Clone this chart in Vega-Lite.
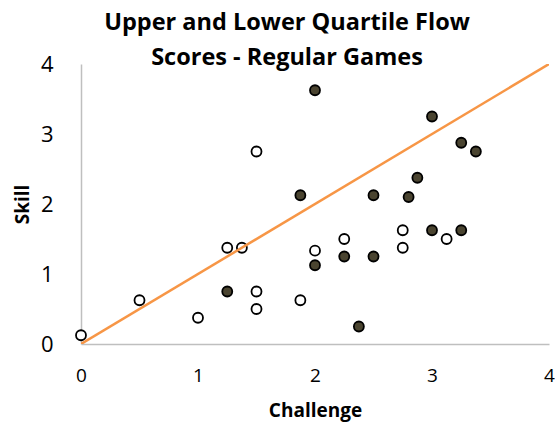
{
  "$schema": "https://vega.github.io/schema/vega-lite/v6.json",
  "width": 468,
  "height": 280,
  "autosize": {"type": "none"},
  "padding": {"left": 81, "top": 64, "right": 6, "bottom": 82},
  "background": "white",
  "config": {
    "view": {"stroke": null},
    "font": "Open Sans"
  },
  "title": {
    "text": ["Upper and Lower Quartile Flow", "Scores - Regular Games"],
    "fontSize": 23.5,
    "fontWeight": "bold",
    "font": "Open Sans",
    "color": "#000000",
    "lineHeight": 35,
    "anchor": "middle",
    "offset": -16,
    "dx": -28
  },
  "datasets": {
    "points": [
      {"challenge": 2, "skill": 3.625, "group": "Upper"},
      {"challenge": 3, "skill": 3.25, "group": "Upper"},
      {"challenge": 3.25, "skill": 2.875, "group": "Upper"},
      {"challenge": 3.375, "skill": 2.75, "group": "Upper"},
      {"challenge": 1.875, "skill": 2.125, "group": "Upper"},
      {"challenge": 2.5, "skill": 2.125, "group": "Upper"},
      {"challenge": 2.875, "skill": 2.375, "group": "Upper"},
      {"challenge": 2.8, "skill": 2.1, "group": "Upper"},
      {"challenge": 3, "skill": 1.625, "group": "Upper"},
      {"challenge": 3.25, "skill": 1.625, "group": "Upper"},
      {"challenge": 2.25, "skill": 1.25, "group": "Upper"},
      {"challenge": 2.5, "skill": 1.25, "group": "Upper"},
      {"challenge": 2, "skill": 1.125, "group": "Upper"},
      {"challenge": 1.25, "skill": 0.75, "group": "Upper"},
      {"challenge": 2.375, "skill": 0.25, "group": "Upper"},
      {"challenge": 0, "skill": 0.125, "group": "Lower"},
      {"challenge": 0.5, "skill": 0.625, "group": "Lower"},
      {"challenge": 1, "skill": 0.375, "group": "Lower"},
      {"challenge": 1.5, "skill": 2.75, "group": "Lower"},
      {"challenge": 1.25, "skill": 1.375, "group": "Lower"},
      {"challenge": 1.375, "skill": 1.375, "group": "Lower"},
      {"challenge": 1.5, "skill": 0.75, "group": "Lower"},
      {"challenge": 1.5, "skill": 0.5, "group": "Lower"},
      {"challenge": 1.875, "skill": 0.625, "group": "Lower"},
      {"challenge": 2, "skill": 1.333, "group": "Lower"},
      {"challenge": 2.25, "skill": 1.5, "group": "Lower"},
      {"challenge": 2.75, "skill": 1.625, "group": "Lower"},
      {"challenge": 2.75, "skill": 1.375, "group": "Lower"},
      {"challenge": 3.125, "skill": 1.5, "group": "Lower"}
    ],
    "diag": [
      {"challenge": 0, "skill": 0},
      {"challenge": 4, "skill": 4}
    ]
  },
  "layer": [
    {
      "data": {"name": "points"},
      "mark": {"type": "point", "filled": false, "shape": "circle", "size": 100, "strokeWidth": 1.8, "stroke": "#000000", "opacity": 1},
      "encoding": {
        "x": {
          "field": "challenge", "type": "quantitative",
          "scale": {"domain": [0, 4], "nice": false, "zero": false},
          "axis": {
            "title": "Challenge", "values": [0, 1, 2, 3, 4], "format": "d", "grid": false, "ticks": false,
            "labelFlush": false, "labelOverlap": false,
            "domainColor": "#bfbfbf", "domainWidth": 1.5,
            "labelFontSize": 19, "labelColor": "#000000", "labelPadding": 22, "labelFont": "Open Sans",
            "titleFontSize": 19, "titleFontWeight": "bold", "titleColor": "#000000", "titlePadding": 16, "titleFont": "Open Sans"
          }
        },
        "y": {
          "field": "skill", "type": "quantitative",
          "scale": {"domain": [0, 4], "nice": false, "zero": false},
          "axis": {
            "title": "Skill", "values": [0, 1, 2, 3, 4], "format": "d", "grid": false, "ticks": false,
            "labelFlush": false, "labelOverlap": false,
            "domainColor": "#bfbfbf", "domainWidth": 1.5,
            "labelFontSize": 22, "labelColor": "#000000", "labelPadding": 28, "labelFont": "Open Sans",
            "titleFontSize": 19, "titleFontWeight": "bold", "titleColor": "#000000", "titlePadding": 8, "titleFont": "Open Sans"
          }
        },
        "fill": {
          "field": "group", "type": "nominal",
          "scale": {"domain": ["Upper", "Lower"], "range": ["#4a4430", "#ffffff"]},
          "legend": null
        }
      }
    },
    {
      "data": {"name": "diag"},
      "mark": {"type": "line", "color": "#F79646", "strokeWidth": 2.5, "clip": true},
      "encoding": {
        "x": {"field": "challenge", "type": "quantitative"},
        "y": {"field": "skill", "type": "quantitative"}
      }
    }
  ]
}
